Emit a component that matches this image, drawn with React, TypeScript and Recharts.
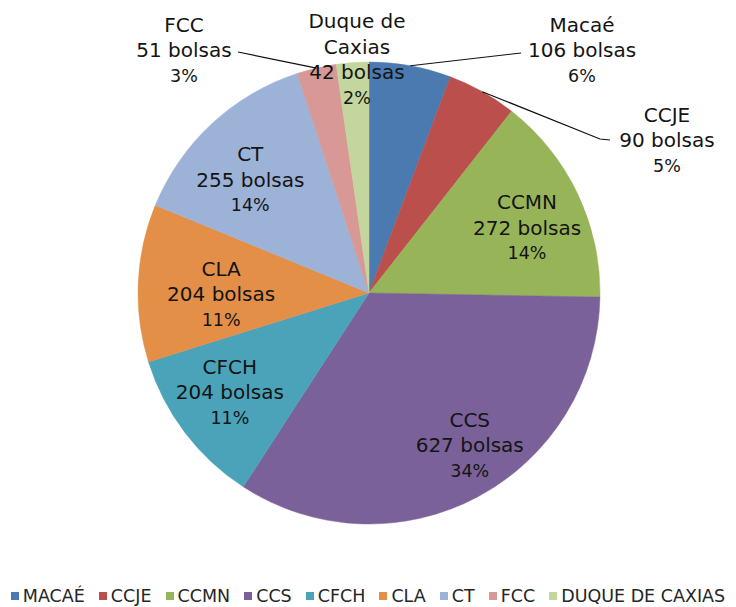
import { PieChart, Pie, Cell, Legend } from 'recharts';

const names = ['Macaé', 'CCJE', 'CCMN', 'CCS', 'CFCH', 'CLA', 'CT', 'FCC', 'Duque de Caxias'];
const bolsas = [106, 90, 272, 627, 204, 204, 255, 51, 42];
const percentLabels = ['6%', '5%', '14%', '34%', '11%', '11%', '14%', '3%', '2%'];

const colors = [
  '#4A7AB0',
  '#BA4F4C',
  '#98B458',
  '#7A6199',
  '#4AA3B9',
  '#E38F48',
  '#9DB2D7',
  '#D79896',
  '#C2D69D',
];

const data = names.map((name, i) => ({ name, value: bolsas[i] }));

// label placement: k = fraction of radius (inside labels), or dx/dy from center with leader line
const labelLayout: any[] = [
  { dx: 213, dy: -243, lead: [[-61, 3]] },
  { dx: 298, dy: -153, lead: [[-67, -1], [-57, 0]] },
  { k: 0.74, da: -3 },
  { k: 0.79, da: 5.5 },
  { k: 0.74, da: -1.7 },
  { k: 0.64, da: 3 },
  { k: 0.71, da: 3.5 },
  { dx: -185, dy: -243, lead: [[54, 2]] },
  { dx: -12, dy: -221 },
];

const FONT = '"DejaVu Sans", sans-serif';

const splitName = (name: string) => {
  const w = name.split(' ');
  return w.length > 2 ? [w.slice(0, 2).join(' '), w.slice(2).join(' ')] : [name];
};

const renderLabel = (props: any) => {
  const { cx, cy, midAngle, outerRadius, index } = props;
  const lay = labelLayout[index];
  const rad = Math.PI / 180;
  let x: number;
  let y: number;
  if (lay.k) {
    const a = (midAngle + lay.da) * rad;
    x = cx + outerRadius * lay.k * Math.cos(a);
    y = cy - outerRadius * lay.k * Math.sin(a);
  } else {
    x = cx + lay.dx;
    y = cy + lay.dy;
  }
  const head = splitName(names[index]);
  const lines = [...head, `${bolsas[index]} bolsas`, percentLabels[index]];
  const bIdx = head.length;
  let leader = null;
  if (lay.lead) {
    const ax = cx + outerRadius * Math.cos(midAngle * rad);
    const ay = cy - outerRadius * Math.sin(midAngle * rad);
    const pts = [[ax, ay], ...lay.lead.map((p: number[]) => [x + p[0], y + p[1]])];
    leader = (
      <polyline
        points={pts.map((p) => p.join(',')).join(' ')}
        fill="none"
        stroke="#111"
        strokeWidth={1.2}
      />
    );
  }
  return (
    <g>
      {leader}
      {lines.map((t, i) => (
        <text
          key={i}
          x={x}
          y={y + (i - bIdx) * 25.5}
          textAnchor="middle"
          dominantBaseline="central"
          fill="#141414"
          fontFamily={FONT}
          fontSize={i === lines.length - 1 ? 17.5 : 20}
        >
          {t}
        </text>
      ))}
    </g>
  );
};

const renderLegend = () => (
  <div
    style={{
      display: 'flex',
      justifyContent: 'center',
      alignItems: 'center',
      fontFamily: FONT,
      fontSize: 17.5,
      color: '#262626',
      whiteSpace: 'nowrap',
    }}
  >
    {names.map((n, i) => (
      <div key={n} style={{ display: 'flex', alignItems: 'center', marginRight: i < names.length - 1 ? 14 : 0 }}>
        <span style={{ width: 8, height: 8, background: colors[i], display: 'inline-block', marginRight: 4 }} />
        <span>{n.toUpperCase()}</span>
      </div>
    ))}
  </div>
);

export default function App() {
  return (
    <PieChart width={720} height={599} margin={{ top: 0, right: 0, bottom: 0, left: 0 }}>
      <Pie
        data={data}
        dataKey="value"
        nameKey="name"
        cx={361}
        cy={285}
        outerRadius={231}
        startAngle={90}
        endAngle={-270}
        label={renderLabel}
        labelLine={false}
        isAnimationActive={false}
      >
        {data.map((d, i) => (
          <Cell key={d.name} fill={colors[i]} stroke={colors[i]} strokeWidth={0.5} />
        ))}
      </Pie>
      <Legend verticalAlign="bottom" content={renderLegend} wrapperStyle={{ bottom: 1, left: 0, width: 720 }} />
    </PieChart>
  );
}
